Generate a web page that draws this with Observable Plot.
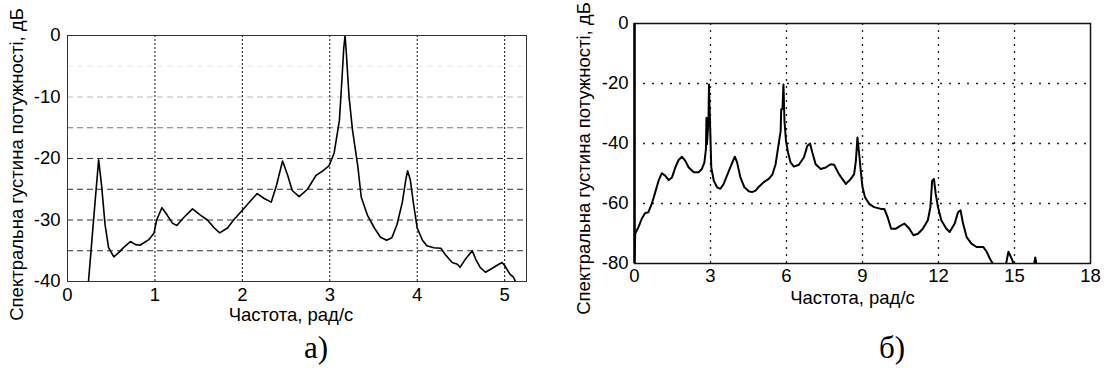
<!DOCTYPE html>
<html><head><meta charset="utf-8">
<script src="https://cdn.jsdelivr.net/npm/d3@7"></script>
<script src="https://cdn.jsdelivr.net/npm/@observablehq/plot@0.6"></script>
<style>
body{margin:0;background:#fff;width:1105px;height:370px;overflow:hidden;position:relative;font-family:"Liberation Sans",Arial,sans-serif;}
#a{position:absolute;left:0;top:0}
#b{position:absolute;left:540px;top:0}
.cap{position:absolute;font-family:"Liberation Serif","Times New Roman",serif;font-size:31px;line-height:1;transform:translate(-50%,-50%);color:#000}
</style></head><body>
<div id="a"></div><div id="b"></div>
<div class="cap" style="left:316px;top:347px">а)</div>
<div class="cap" style="left:892px;top:347px">б)</div>
<script>
const xLabel = "Частота, рад/с";
const yLabel = "Спектральна густина потужності, дБ";

// Panel а)
const leftXTicks = [0, 1, 2, 3, 4, 5];
const leftYTicks = [-40, -30, -20, -10, 0];
const leftGridY = [-35, -30, -25, -20];
const leftFreq = [0.20, 0.24, 0.30, 0.356, 0.39, 0.43, 0.47, 0.53, 0.585, 0.64, 0.72, 0.78, 0.83, 0.93, 0.99, 1.02, 1.08, 1.14, 1.20, 1.25, 1.33, 1.43, 1.52, 1.60, 1.68, 1.74, 1.83, 1.90, 2.00, 2.10, 2.17, 2.25, 2.33, 2.39, 2.46, 2.52, 2.57, 2.65, 2.745, 2.84, 2.92, 2.99, 3.05, 3.11, 3.14, 3.16, 3.175, 3.19, 3.22, 3.26, 3.32, 3.36, 3.43, 3.51, 3.58, 3.65, 3.71, 3.77, 3.83, 3.87, 3.89, 3.92, 3.96, 4.00, 4.06, 4.11, 4.19, 4.27, 4.32, 4.40, 4.46, 4.49, 4.55, 4.63, 4.67, 4.72, 4.78, 4.84, 4.91, 4.97, 5.00, 5.06, 5.10, 5.14];
const leftPsd = [-43, -40, -29.7, -20.2, -24.4, -30.8, -34.5, -36, -35.3, -34.5, -33.5, -34, -34.1, -33.2, -32.1, -30, -28, -29.2, -30.5, -30.9, -29.6, -28.2, -29.2, -30, -31.3, -32.1, -31.3, -30, -28.4, -26.8, -25.7, -26.5, -27.1, -24.4, -20.4, -22.8, -25.2, -26.2, -25, -22.8, -22, -21.2, -19.1, -13.8, -6.9, -2, 0, -3, -9.9, -15.4, -21.2, -26.3, -29.2, -31.3, -32.8, -33.3, -32.9, -30.7, -27.1, -23.4, -22, -23.4, -27.6, -31.3, -33.3, -34.2, -34.5, -34.6, -35.6, -36.9, -37.2, -37.7, -36.4, -35, -36.4, -37.7, -38.5, -38, -37.4, -36.9, -37.4, -38.8, -39.3, -40.5];

// Panel б)
const rightXTicks = [0, 3, 6, 9, 12, 15, 18];
const rightYTicks = [-80, -60, -40, -20, 0];
const rightGridX = [3, 6, 9, 12, 15];
const rightGridY = [-60, -40, -20];
const rightFreq = [0, 0.03, 0.16, 0.29, 0.42, 0.55, 0.69, 0.82, 0.95, 1.08, 1.21, 1.35, 1.48, 1.61, 1.74, 1.87, 2.00, 2.14, 2.34, 2.53, 2.66, 2.76, 2.82, 2.84, 2.86, 2.92, 2.94, 2.98, 3.03, 3.13, 3.26, 3.39, 3.52, 3.65, 3.81, 3.96, 4.05, 4.18, 4.34, 4.51, 4.64, 4.78, 4.91, 5.10, 5.30, 5.44, 5.57, 5.67, 5.77, 5.79, 5.84, 5.88, 5.92, 5.98, 6.06, 6.16, 6.29, 6.49, 6.69, 6.82, 6.93, 7.02, 7.15, 7.35, 7.55, 7.74, 7.88, 8.07, 8.27, 8.34, 8.54, 8.67, 8.74, 8.80, 8.87, 8.93, 9.00, 9.10, 9.26, 9.46, 9.73, 9.86, 9.99, 10.13, 10.32, 10.52, 10.66, 10.85, 11.01, 11.19, 11.38, 11.58, 11.68, 11.75, 11.82, 11.89, 11.98, 12.11, 12.31, 12.44, 12.64, 12.77, 12.87, 12.97, 13.11, 13.30, 13.50, 13.77, 13.90, 14.03, 14.14, 14.40, 14.67, 14.76, 14.89, 14.96, 15.40, 15.78, 15.82, 15.86, 16.20];
const rightPsd = [-78, -70, -67.8, -65, -63.2, -62.9, -59.9, -56.2, -52.4, -49.9, -50.7, -52.2, -51.3, -48, -45.5, -44.4, -45.7, -48, -49.6, -49.6, -48.5, -46.3, -41.9, -31.4, -40.2, -32.5, -20.3, -32.5, -48, -52.4, -54.6, -55.1, -53.5, -50.7, -47.4, -44.4, -46.3, -51.3, -54.6, -55.9, -56.2, -55.7, -54.4, -52.9, -51.8, -50.4, -46.9, -41.3, -35.8, -28.6, -28.6, -20.3, -32.5, -39.1, -43, -46.3, -47.7, -47.1, -44.6, -40.8, -40, -43, -46.9, -48.5, -48, -46.9, -47.1, -50.2, -52.6, -53.5, -51.8, -50.2, -45.7, -38, -43.5, -49, -54.6, -57.9, -60.1, -61.2, -61.8, -61.8, -64.5, -68.4, -68.4, -67.3, -66.7, -68.4, -70.6, -70.1, -68.4, -65.6, -61.2, -52.4, -51.8, -56.8, -61.2, -65.6, -68.4, -69.5, -66.7, -62.9, -62.3, -66.7, -71.2, -73.4, -74.5, -74.5, -76.1, -78.4, -80, -84, -80, -76.1, -78.4, -80, -84, -80, -78, -80, -84];

const leftData = leftFreq.map((f, i) => ({f, p: leftPsd[i]}));
const rightData = rightFreq.map((f, i) => ({f, p: rightPsd[i]}));
const fmt = d => String(d);
const font = {fontFamily: "'Liberation Sans', Arial, sans-serif", fontSize: "18.5px", color: "#000", background: "transparent", overflow: "visible"};

function yTitle(dy) {
  return Plot.text([yLabel], {text: d => d, frameAnchor: "left", rotate: -90, dx: -50, dy, textAnchor: "middle", lineAnchor: "middle", fontSize: 18.5, fill: "#000"});
}
function xTitle(dx, dy) {
  return Plot.text([xLabel], {text: d => d, frameAnchor: "bottom", dx, dy, textAnchor: "middle", lineAnchor: "middle", fontSize: 18.5, fill: "#000"});
}

const left = Plot.plot({
  width: 560, height: 330,
  marginLeft: 67, marginRight: 34, marginTop: 35, marginBottom: 49,
  style: font,
  x: {domain: [0, 5.25], ticks: leftXTicks, tickFormat: fmt, tickSize: 0, tickPadding: 6, label: null},
  y: {domain: [-40, 0], ticks: leftYTicks, tickFormat: fmt, tickSize: 0, tickPadding: 7, label: null},
  marks: [
    Plot.ruleY(leftGridY, {stroke: "#333", strokeDasharray: "6,4"}),
    Plot.ruleY([-15], {stroke: "#777", strokeDasharray: "6,4"}),
    Plot.ruleY([-10], {stroke: "#bbb", strokeDasharray: "6,4"}),
    Plot.ruleY([-5], {stroke: "#e6e6e6", strokeDasharray: "6,4"}),
    Plot.ruleX(leftXTicks, {stroke: "#111", strokeDasharray: "2,2"}),
    Plot.line(leftData, {x: "f", y: "p", stroke: "#000", strokeWidth: 1.6, clip: true}),
    Plot.frame({stroke: "#333"}),
    yTitle(6),
    xTitle(-6, 34)
  ]
});
document.getElementById("a").append(left);

const right = Plot.plot({
  width: 565, height: 330,
  marginLeft: 94, marginRight: 15, marginTop: 23, marginBottom: 67,
  style: font,
  x: {domain: [0, 18], ticks: rightXTicks, tickFormat: fmt, tickSize: 0, tickPadding: 5, label: null},
  y: {domain: [-80, 0], ticks: rightYTicks, tickFormat: fmt, tickSize: 0, tickPadding: 6, label: null},
  marks: [
    Plot.ruleY(rightGridY, {stroke: "#222", strokeWidth: 1.3, strokeDasharray: "2,7"}),
    Plot.ruleX(rightGridX, {stroke: "#222", strokeWidth: 1.3, strokeDasharray: "2,5"}),
    Plot.line(rightData, {x: "f", y: "p", stroke: "#000", strokeWidth: 2, clip: true}),
    Plot.frame({stroke: "#111", strokeWidth: 1.5}),
    Plot.ruleX([0], {stroke: "#000", strokeWidth: 2.5}),
    yTitle(15),
    xTitle(-10, 35)
  ]
});
document.getElementById("b").append(right);
</script>
</body></html>
